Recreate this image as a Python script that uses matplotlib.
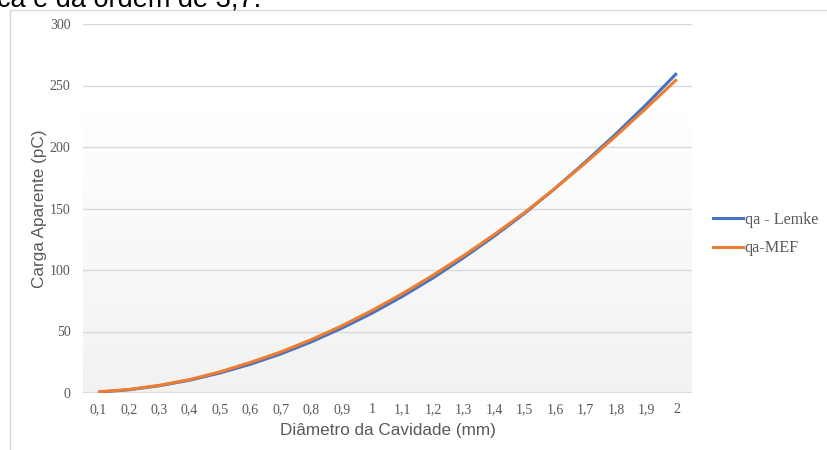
import numpy as np
import matplotlib
matplotlib.use("Agg")
import matplotlib.pyplot as plt
from matplotlib.lines import Line2D

# Cavity diameter (mm) and apparent charge (pC)
diametros = ["0,1", "0,2", "0,3", "0,4", "0,5", "0,6", "0,7", "0,8", "0,9", "1",
             "1,1", "1,2", "1,3", "1,4", "1,5", "1,6", "1,7", "1,8", "1,9", "2"]
qa_lemke = [0.7, 2.6, 5.9, 10.4, 16.3, 23.4, 31.8, 41.6, 52.7, 65.0,
            78.7, 93.6, 110.0, 127.4, 146.0, 166.3, 187.9, 210.6, 234.6, 260.0]
qa_mef = [1.0, 2.8, 6.2, 10.9, 17.2, 24.9, 33.4, 43.4, 54.6, 67.2,
          80.9, 95.8, 111.7, 128.7, 146.7, 166.3, 187.1, 208.9, 231.6, 255.0]
y_ticks = [0, 50, 100, 150, 200, 250, 300]

W, H = 828, 450
fig = plt.figure(figsize=(W / 100, H / 100), dpi=100)

# page text above the chart
fig.text(-3 / W, 1 - 7 / H, "ca é da ordem de 3,7.", family="Liberation Sans",
         fontsize=19.5, color="black", ha="left", va="baseline")

# chart area border
fig.add_artist(Line2D([10 / W, 10 / W], [1 - 10 / H, -0.1], transform=fig.transFigure,
                      color="#d9d9d9", lw=1))
fig.add_artist(Line2D([10 / W, 1.1], [1 - 10 / H, 1 - 10 / H], transform=fig.transFigure,
                      color="#d9d9d9", lw=1))

left, right, top, bottom = 83, 692, 24, 393
ax = fig.add_axes([left / W, 1 - bottom / H, (right - left) / W, (bottom - top) / H])

x = np.arange(len(diametros))
ax.set_xlim(-0.5, len(diametros) - 0.5)
ax.set_ylim(0, 300)

# plot area fill: soft vertical gradient
grad = np.linspace(0.0, 1.0, 256).reshape(-1, 1)
top_col = np.array([1.0, 1.0, 1.0])
bot_col = np.array([0xf2, 0xf2, 0xf2]) / 255
img = top_col * (1 - grad[..., None]) + bot_col * grad[..., None]
ax.imshow(img, extent=(-0.5, len(diametros) - 0.5, 0, 232), aspect="auto",
          origin="upper", zorder=0)

for yv in y_ticks[1:]:
    ax.axhline(yv, color="#d9d9d9", lw=1, zorder=1)
ax.axhline(0, color="#d9d9d9", lw=1.6, zorder=1)

ax.plot(x, qa_lemke, color="#4472C4", lw=2.2, zorder=3, solid_capstyle="butt")
ax.plot(x, qa_mef, color="#ED7D31", lw=2.2, zorder=4, solid_capstyle="butt")

for s in ax.spines.values():
    s.set_visible(False)
ax.set_xticks(x)
ax.set_xticklabels(diametros, family="Liberation Serif", fontsize=10, color="#595959")
ax.set_yticks(y_ticks)
ax.set_yticklabels([str(v) for v in y_ticks], family="Liberation Serif", fontsize=10,
                   color="#595959")
ax.tick_params(length=0)
ax.tick_params(axis="x", pad=7)
ax.tick_params(axis="y", pad=9)

ax.set_xlabel("Diâmetro da Cavidade (mm)", family="Liberation Sans", fontsize=12.3,
              color="#595959", labelpad=5)
ax.set_ylabel("Carga Aparente (pC)", family="Liberation Sans", fontsize=12.3,
              color="#595959", labelpad=2)

handles = [Line2D([], [], color="#4472C4", lw=2.2), Line2D([], [], color="#ED7D31", lw=2.2)]
fig.legend(handles, ["qa - Lemke", "qa-MEF"], loc="center left",
           bbox_to_anchor=(713 / W, 1 - 234 / H), frameon=False,
           prop={"family": "Liberation Serif", "size": 11.6}, labelcolor="#595959",
           handlelength=1.85, handletextpad=0.12, labelspacing=0.78,
           borderpad=0, borderaxespad=0)

fig.savefig("out.png", dpi=100)
